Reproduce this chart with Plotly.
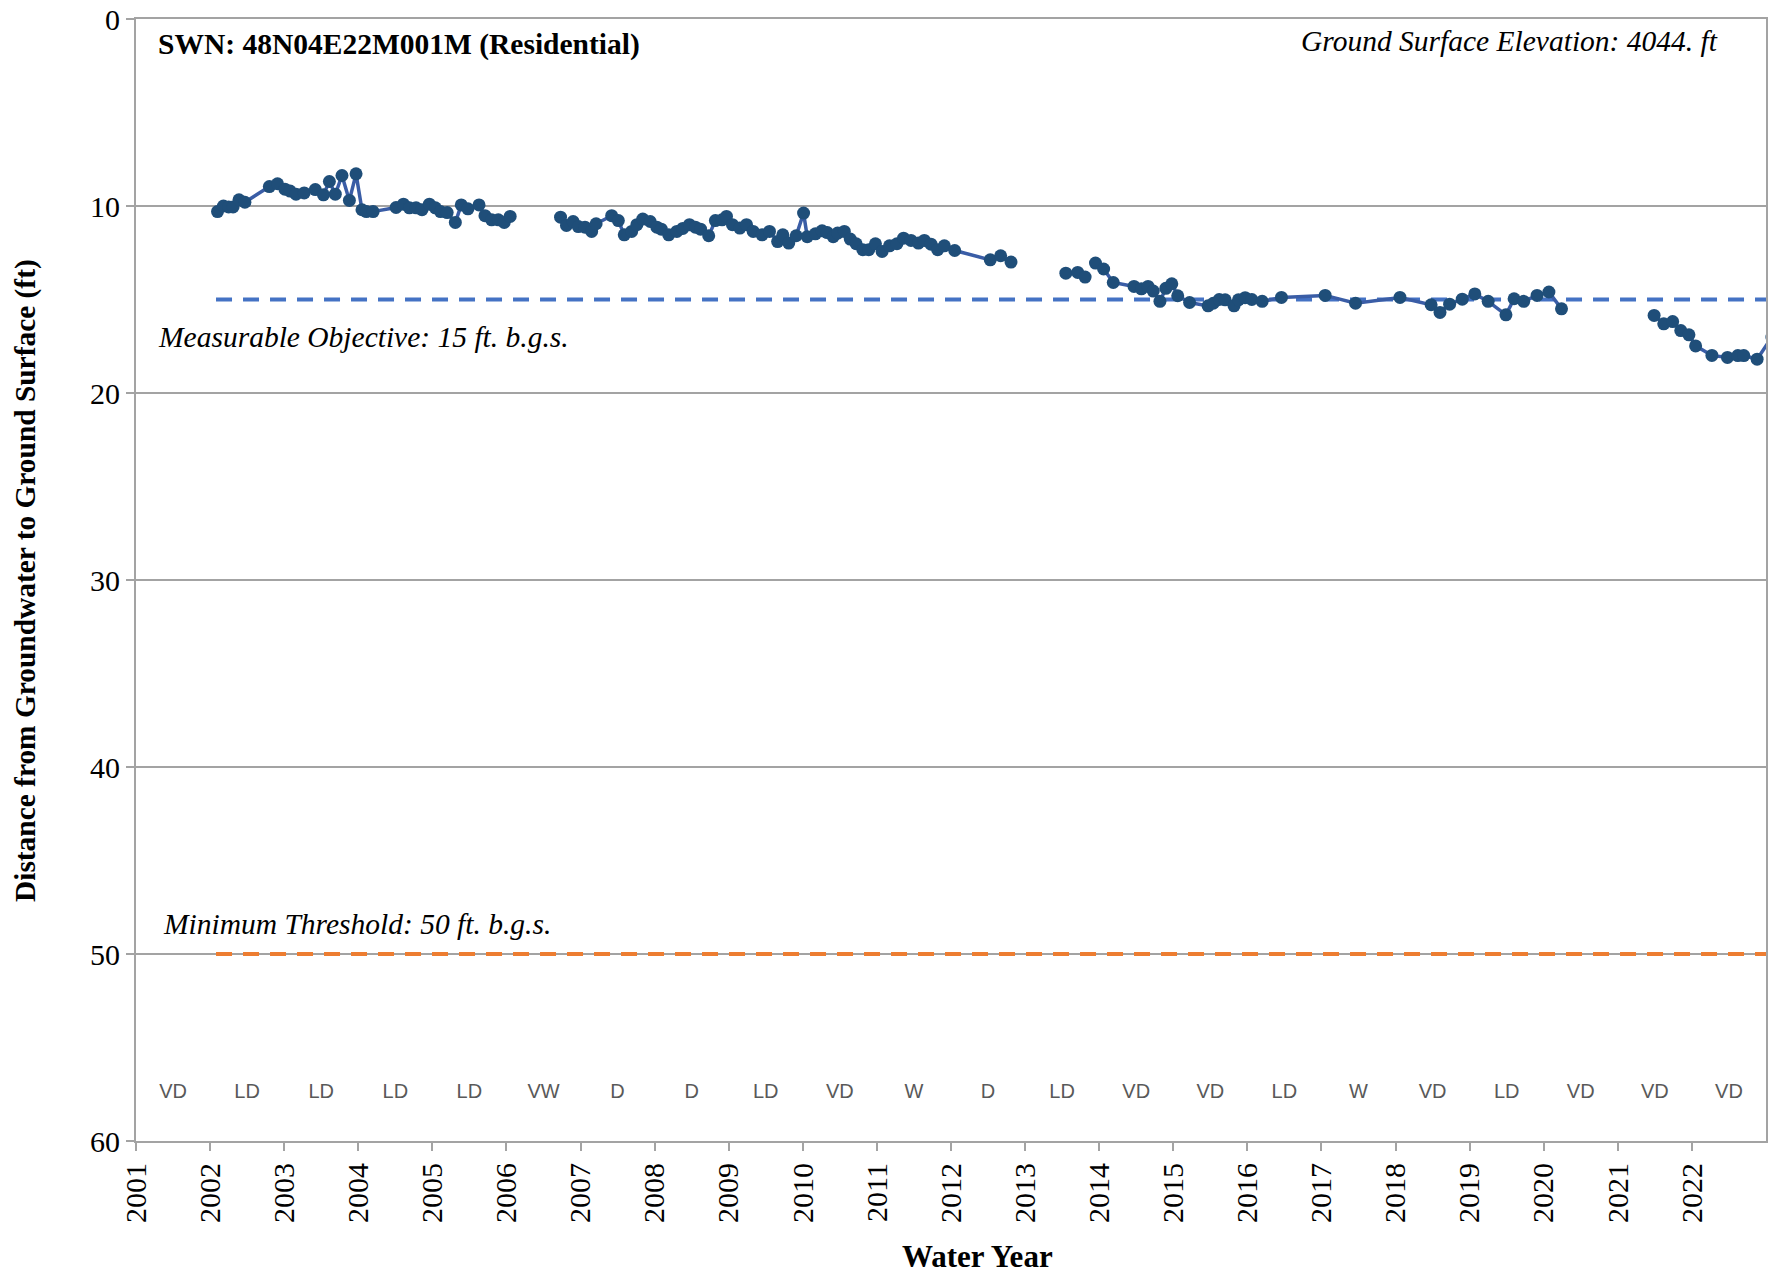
import plotly.graph_objects as go

# ---------------- data ----------------
dates = [
    2002.10, 2002.18, 2002.25, 2002.31, 2002.39, 2002.47, 2002.80, 2002.91, 2003.01, 2003.08,
    2003.16, 2003.27, 2003.42, 2003.53, 2003.61, 2003.69, 2003.78, 2003.88, 2003.97, 2004.05,
    2004.11, 2004.20, 2004.51, 2004.61, 2004.69, 2004.78, 2004.86, 2004.96, 2005.04, 2005.11,
    2005.20, 2005.31, 2005.39, 2005.48, 2005.63, 2005.71, 2005.80, 2005.89, 2005.97, 2006.05,
    None,
    2006.73, 2006.81, 2006.90, 2006.97, 2007.06, 2007.15, 2007.21, 2007.42, 2007.51, 2007.59,
    2007.69, 2007.76, 2007.84, 2007.94, 2008.03, 2008.09, 2008.19, 2008.30, 2008.38, 2008.47,
    2008.55, 2008.62, 2008.73, 2008.82, 2008.91, 2008.97, 2009.05, 2009.15, 2009.24, 2009.33,
    2009.45, 2009.55, 2009.66, 2009.73, 2009.81, 2009.91, 2010.01, 2010.06, 2010.17, 2010.26,
    2010.33, 2010.41, 2010.47, 2010.56, 2010.64, 2010.72, 2010.81, 2010.89, 2010.98, 2011.07,
    2011.17, 2011.27, 2011.36, 2011.46, 2011.56, 2011.64, 2011.73, 2011.82, 2011.91, 2012.05,
    2012.53, 2012.67, 2012.81,
    None,
    2013.55, 2013.71, 2013.81,
    None,
    2013.95, 2014.06, 2014.19, 2014.47, 2014.57, 2014.66, 2014.73, 2014.82, 2014.90, 2014.98,
    2015.06, 2015.22, 2015.47, 2015.54, 2015.62, 2015.70, 2015.82, 2015.88, 2015.97, 2016.06,
    2016.20, 2016.46, 2017.05, 2017.46, 2018.06, 2018.48, 2018.60, 2018.73, 2018.90, 2019.07,
    2019.25, 2019.49, 2019.60, 2019.73, 2019.91, 2020.07, 2020.24,
    None,
    2021.49, 2021.62, 2021.74, 2021.85, 2021.96, 2022.05, 2022.27, 2022.48, 2022.62, 2022.70,
    2022.88, 2023.08,
]
depth_ft = [
    10.30, 10.00, 10.05, 10.05, 9.67, 9.80, 8.96, 8.81, 9.10, 9.20,
    9.37, 9.30, 9.12, 9.40, 8.69, 9.37, 8.37, 9.70, 8.28, 10.20,
    10.30, 10.30, 10.08, 9.90, 10.10, 10.10, 10.20, 9.90, 10.10, 10.30,
    10.35, 10.88, 9.94, 10.15, 9.94, 10.52, 10.74, 10.74, 10.88, 10.56,
    None,
    10.60, 11.04, 10.83, 11.10, 11.13, 11.36, 10.95, 10.52, 10.78, 11.54,
    11.36, 11.00, 10.70, 10.83, 11.13, 11.24, 11.54, 11.36, 11.20, 11.00,
    11.13, 11.24, 11.59, 10.78, 10.74, 10.56, 11.00, 11.18, 11.00, 11.36,
    11.54, 11.36, 11.90, 11.54, 11.98, 11.59, 10.38, 11.64, 11.49, 11.33,
    11.42, 11.64, 11.45, 11.36, 11.77, 12.02, 12.34, 12.34, 12.02, 12.43,
    12.13, 12.02, 11.72, 11.84, 11.98, 11.84, 12.04, 12.34, 12.13, 12.38,
    12.88, 12.66, 13.00,
    None,
    13.59, 13.55, 13.80,
    None,
    13.05, 13.37, 14.09, 14.30, 14.43, 14.30, 14.55, 15.10, 14.40, 14.16,
    14.80, 15.16, 15.34, 15.20, 15.00, 15.02, 15.34, 15.02, 14.90, 15.00,
    15.10, 14.89, 14.78, 15.20, 14.89, 15.28, 15.69, 15.25, 14.98, 14.70,
    15.10, 15.82, 14.96, 15.10, 14.78, 14.60, 15.50,
    None,
    15.85, 16.30, 16.18, 16.66, 16.89, 17.48, 17.99, 18.10, 18.00, 18.00,
    18.19, 17.00,
]

year_ticks = list(range(2001, 2023))
year_tick_labels = [str(y) for y in year_ticks]

wy_centers = [y + 0.5 for y in range(2001, 2023)]
wy_types = ["VD", "LD", "LD", "LD", "LD", "VW", "D", "D", "LD", "VD", "W",
            "D", "LD", "VD", "VD", "LD", "W", "VD", "LD", "VD", "VD", "VD"]
wy_label_depth = 57.45

mo_x = [2002.08, 2023.0]
mo_depth = [15, 15]
mt_x = [2002.08, 2023.0]
mt_depth = [50, 50]

title_text = "SWN: 48N04E22M001M (Residential)"
gse_text = "Ground Surface Elevation: 4044. ft"
mo_text = "Measurable Objective: 15 ft. b.g.s."
mt_text = "Minimum Threshold: 50 ft. b.g.s."

# ---------------- figure ----------------
SERIF = "Liberation Serif, Times New Roman, serif"
GRID = "#A3A3A3"

W, H = 1775, 1283
L, R, T, B = 136, 9, 19, 142
pw, ph = W - L - R, H - T - B

def px_to_paper(px, py):
    return (px - L) / pw, 1 - (py - T) / ph

fig = go.Figure()

fig.add_trace(go.Scatter(
    x=mo_x, y=mo_depth, mode="lines",
    line=dict(color="#4472C4", width=4, dash="16px,11px"),
    hoverinfo="skip", showlegend=False,
))
fig.add_trace(go.Scatter(
    x=mt_x, y=mt_depth, mode="lines",
    line=dict(color="#ED7D31", width=4, dash="16px,11px"),
    hoverinfo="skip", showlegend=False,
))
fig.add_trace(go.Scatter(
    x=dates, y=depth_ft, mode="lines+markers",
    connectgaps=False,
    line=dict(color="#3A5DA6", width=3.5),
    marker=dict(color="#1F4E79", size=13),
    cliponaxis=True, showlegend=False,
))
fig.add_trace(go.Scatter(
    x=wy_centers, y=[wy_label_depth] * len(wy_centers), mode="text",
    text=wy_types, textposition="middle center",
    textfont=dict(family="Liberation Sans, Arial, sans-serif", size=20, color="#595959"),
    hoverinfo="skip", showlegend=False,
))

fig.add_annotation(x=0.012, y=0.977, xref="paper", yref="paper", xanchor="left", yanchor="middle",
                   text="<b>" + title_text + "</b>", showarrow=False,
                   font=dict(family=SERIF, size=29.5, color="black"))
fig.add_annotation(x=0.972, y=0.980, xref="paper", yref="paper", xanchor="right", yanchor="middle",
                   text="<i>" + gse_text + "</i>", showarrow=False,
                   font=dict(family=SERIF, size=29.5, color="black"))
fig.add_annotation(x=0.0125, y=17.0, xref="paper", yref="y", xanchor="left", yanchor="middle",
                   text="<i>" + mo_text + "</i>", showarrow=False,
                   font=dict(family=SERIF, size=29.5, color="black"))
fig.add_annotation(x=0.0155, y=48.4, xref="paper", yref="y", xanchor="left", yanchor="middle",
                   text="<i>" + mt_text + "</i>", showarrow=False,
                   font=dict(family=SERIF, size=29.5, color="black"))
# axis titles
xt_x, xt_y = px_to_paper(977, 1257)
fig.add_annotation(x=xt_x, y=xt_y, xref="paper", yref="paper", showarrow=False,
                   xanchor="center", yanchor="middle",
                   text="<b>Water Year</b>", font=dict(family=SERIF, size=31, color="black"))
yt_x, yt_y = px_to_paper(25, 581)
fig.add_annotation(x=yt_x, y=yt_y, xref="paper", yref="paper", showarrow=False, textangle=-90,
                   xanchor="center", yanchor="middle",
                   text="<b>Distance from Groundwater to Ground Surface (ft)</b>",
                   font=dict(family=SERIF, size=29.4, color="black"))

fig.update_layout(
    width=W, height=H,
    margin=dict(l=L, r=R, t=T, b=B, autoexpand=False),
    paper_bgcolor="white", plot_bgcolor="white",
    font=dict(family=SERIF, size=28, color="black"),
    showlegend=False,
)
fig.update_xaxes(
    range=[2001, 2023],
    tickmode="array", tickvals=year_ticks, ticktext=year_tick_labels,
    tickangle=-90, ticks="outside", ticklen=8, tickcolor=GRID, tickwidth=2,
    tickfont=dict(family=SERIF, size=30, color="black"),
    showgrid=False, zeroline=False,
    showline=True, linecolor=GRID, linewidth=2, mirror=True,
)
fig.update_yaxes(
    range=[60, 0], tickmode="array", tickvals=[0, 10, 20, 30, 40, 50, 60],
    ticks="outside", ticklen=8, tickcolor=GRID, tickwidth=2,
    tickfont=dict(family=SERIF, size=30, color="black"),
    showgrid=True, gridcolor=GRID, gridwidth=2, zeroline=False,
    showline=True, linecolor=GRID, linewidth=2, mirror=True,
)

fig.write_html(
    "out.html",
    config={"displayModeBar": False},
    post_script="document.body.style.margin='0';document.body.style.overflow='hidden';",
)
